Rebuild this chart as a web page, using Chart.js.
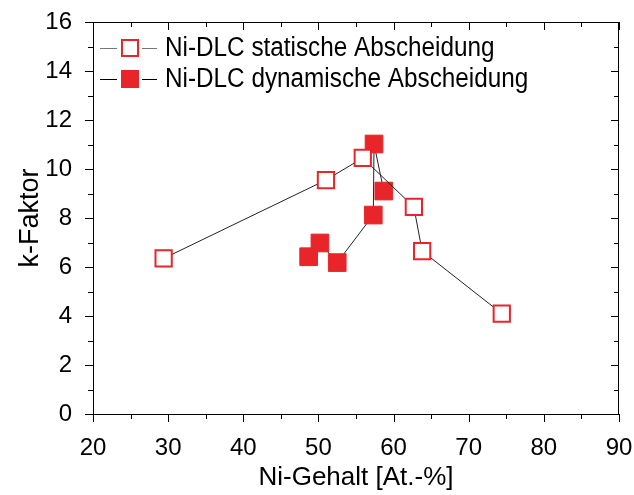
<!DOCTYPE html>
<html>
<head>
<meta charset="utf-8">
<script src="https://cdn.jsdelivr.net/npm/chart.js@4.4.0/dist/chart.umd.min.js"></script>
<style>
  body { margin: 0; background: #fff; }
  #wrap { width: 634px; height: 495px; }
</style>
</head>
<body>
<div id="wrap"><canvas id="chart"></canvas></div>
<script>
// data
const staticX = [29.4, 51.0, 55.9, 62.7, 63.8, 74.4];
const staticY = [6.35, 9.55, 10.45, 8.45, 6.65, 4.1];
const dynX = [48.7, 50.2, 52.5, 57.3, 57.4, 58.7];
const dynY = [6.42, 6.98, 6.18, 8.12, 11.02, 9.1];
const seriesNames = ['Ni-DLC statische Abscheidung', 'Ni-DLC dynamische Abscheidung'];
const xTitle = 'Ni-Gehalt [At.-%]';
const yTitle = 'k-Faktor';

const red = '#e8262a';
const fontFam = "'Liberation Sans', Arial, sans-serif";

const toPoints = (xs, ys) => xs.map((x, i) => ({ x: x, y: ys[i] }));

// tick marks on all four sides + legend, Origin style
const frameTicks = {
    id: 'frameTicks',
    afterDraw(chart) {
        const ctx = chart.ctx;
        const a = chart.chartArea;
        const xs = chart.scales.x, ys = chart.scales.y;
        ctx.save();
        ctx.strokeStyle = '#000';
        ctx.lineWidth = 1;
        ctx.strokeRect(a.left + 0.5, a.top + 0.5, a.right - a.left - 1, a.bottom - a.top);
        ctx.beginPath();
        for (let v = 20; v <= 90; v += 5) {
            const px = Math.round(xs.getPixelForValue(v)) + 0.5;
            const len = v % 10 === 0 ? 8 : 5;
            ctx.moveTo(px, a.bottom); ctx.lineTo(px, a.bottom + len);
            ctx.moveTo(px, a.top); ctx.lineTo(px, a.top + len);
        }
        for (let v = 0; v <= 16; v += 1) {
            const py = Math.round(ys.getPixelForValue(v)) + 0.5;
            const len = v % 2 === 0 ? 8 : 5;
            ctx.moveTo(a.left, py); ctx.lineTo(a.left - len, py);
            ctx.moveTo(a.right, py); ctx.lineTo(a.right - len, py);
        }
        ctx.stroke();

        // legend
        const rows = [
            { y: 48, open: true, line: '#777' },
            { y: 79, open: false, line: '#000' }
        ];
        ctx.textBaseline = 'middle';
        rows.forEach((r, i) => {
            ctx.strokeStyle = r.line;
            ctx.lineWidth = 1;
            ctx.beginPath();
            ctx.moveTo(100, r.y + 0.5); ctx.lineTo(117, r.y + 0.5);
            ctx.moveTo(142, r.y + 0.5); ctx.lineTo(157, r.y + 0.5);
            ctx.stroke();
            if (r.open) {
                ctx.fillStyle = '#fff';
                ctx.fillRect(122, r.y - 8, 16, 16);
                ctx.strokeStyle = red;
                ctx.lineWidth = 2;
                ctx.strokeRect(122, r.y - 8, 16, 16);
            } else {
                ctx.fillStyle = red;
                ctx.fillRect(121, r.y - 9, 18, 18);
            }
            // slightly condensed text like the original
            ctx.save();
            ctx.translate(165, r.y + 1);
            ctx.scale(0.9, 1);
            ctx.font = '27px ' + fontFam;
            ctx.fillStyle = '#000';
            ctx.fillText(seriesNames[i], 0, 0);
            ctx.restore();
        });
        ctx.restore();
    }
};

new Chart(document.getElementById('chart'), {
    type: 'scatter',
    data: {
        datasets: [
            {
                label: seriesNames[0],
                data: toPoints(staticX, staticY),
                showLine: true,
                borderColor: '#222',
                borderWidth: 1,
                pointStyle: 'rect',
                pointRadius: 11.5,
                pointHoverRadius: 11.5,
                pointBorderWidth: 2,
                pointBorderColor: red,
                pointBackgroundColor: '#fff'
            },
            {
                label: seriesNames[1],
                data: toPoints(dynX, dynY),
                showLine: true,
                borderColor: '#222',
                borderWidth: 1,
                pointStyle: 'rect',
                pointRadius: 12.5,
                pointHoverRadius: 12.5,
                pointBorderWidth: 1,
                pointBorderColor: red,
                pointBackgroundColor: red
            }
        ]
    },
    options: {
        responsive: true,
        maintainAspectRatio: false,
        animation: false,
        layout: { padding: { top: 22, right: 15, left: 0, bottom: 0 } },
        plugins: {
            legend: { display: false },
            tooltip: { enabled: false }
        },
        scales: {
            x: {
                type: 'linear',
                min: 20,
                max: 90,
                afterFit: s => { s.height = 81; s.paddingLeft = 0; s.paddingRight = 0; },
                grid: { display: false },
                border: { display: false },
                ticks: {
                    stepSize: 10,
                    padding: 12,
                    color: '#000',
                    font: { family: fontFam, size: 24 }
                },
                title: {
                    display: true,
                    text: xTitle,
                    color: '#000',
                    font: { family: fontFam, size: 26 },
                    padding: { top: 0, bottom: 2 }
                }
            },
            y: {
                type: 'linear',
                min: 0,
                max: 16,
                afterFit: s => { s.width = 93; s.paddingTop = 0; s.paddingBottom = 0; },
                grid: { display: false },
                border: { display: false },
                ticks: {
                    stepSize: 2,
                    padding: 13,
                    color: '#000',
                    font: { family: fontFam, size: 24 }
                },
                title: {
                    display: true,
                    text: yTitle,
                    color: '#000',
                    font: { family: fontFam, size: 27 },
                    padding: { top: 14, bottom: 0 }
                }
            }
        }
    },
    plugins: [frameTicks]
});
</script>
</body>
</html>
